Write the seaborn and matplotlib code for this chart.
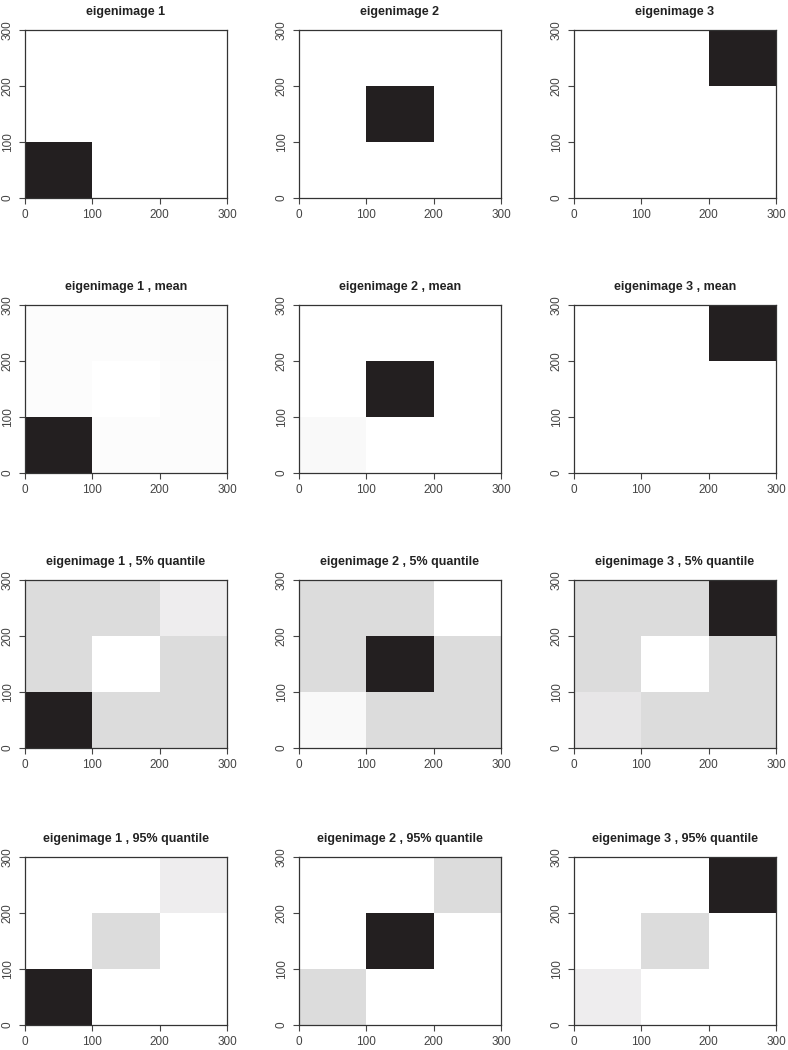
import numpy as np
import matplotlib
matplotlib.use("Agg")
import matplotlib.pyplot as plt
from matplotlib.colors import LinearSegmentedColormap
import seaborn as sns

# ── Data: darkness of each 100x100 block (rows: y 0-100, 100-200, 200-300) ────
eigen_1 = [[1.00, 0.00, 0.00], [0.00, 0.00, 0.00], [0.00, 0.00, 0.00]]
eigen_2 = [[0.00, 0.00, 0.00], [0.00, 1.00, 0.00], [0.00, 0.00, 0.00]]
eigen_3 = [[0.00, 0.00, 0.00], [0.00, 0.00, 0.00], [0.00, 0.00, 1.00]]

mean_1 = [[1.00, 0.015, 0.015], [0.015, 0.00, 0.015], [0.015, 0.015, 0.02]]
mean_2 = [[0.03, 0.00, 0.00], [0.00, 1.00, 0.00], [0.00, 0.00, 0.00]]
mean_3 = [[0.00, 0.00, 0.00], [0.00, 0.00, 0.00], [0.00, 0.00, 1.00]]

q05_1 = [[1.00, 0.16, 0.16], [0.16, 0.00, 0.16], [0.16, 0.16, 0.08]]
q05_2 = [[0.03, 0.16, 0.16], [0.16, 1.00, 0.16], [0.16, 0.16, 0.00]]
q05_3 = [[0.11, 0.16, 0.16], [0.16, 0.00, 0.16], [0.16, 0.16, 1.00]]

q95_1 = [[1.00, 0.00, 0.00], [0.00, 0.16, 0.00], [0.00, 0.00, 0.08]]
q95_2 = [[0.16, 0.00, 0.00], [0.00, 1.00, 0.00], [0.00, 0.00, 0.16]]
q95_3 = [[0.08, 0.00, 0.00], [0.00, 0.16, 0.00], [0.00, 0.00, 1.00]]

row_suffixes = ["", " , mean", " , 5% quantile", " , 95% quantile"]
panels = [
    [eigen_1, eigen_2, eigen_3],
    [mean_1, mean_2, mean_3],
    [q05_1, q05_2, q05_3],
    [q95_1, q95_2, q95_3],
]
tick_labels = ["0", "100", "200", "300"]

# ── Layout ────────────────────────────────────────────────────────────────────
W, H = 788, 1050
col_left = [25, 299, 574]
col_width = 202
row_top = [30, 305, 580, 857]
row_height = 168

sns.set_style("white")
plt.rcParams["font.family"] = ["Liberation Sans", "DejaVu Sans"]

cmap = LinearSegmentedColormap.from_list("r_gray", ["#ffffff", "#231f20"])

fig = plt.figure(figsize=(W / 100, H / 100), dpi=100)
fig.patch.set_facecolor("white")

for r, row in enumerate(panels):
    for c, mat in enumerate(row):
        left = col_left[c] / W
        bottom = 1 - (row_top[r] + row_height) / H
        ax = fig.add_axes([left, bottom, col_width / W, row_height / H])
        sns.heatmap(np.array(mat), ax=ax, cmap=cmap, vmin=0, vmax=1,
                    cbar=False, square=False, linewidths=0)
        ax.set_ylim(0, 3)
        ax.set_xlim(0, 3)
        ax.set_xticks(range(4))
        ax.set_yticks(range(4))
        ax.set_xticklabels(tick_labels, rotation=0, fontsize=8.5, color="#444444")
        ax.set_yticklabels(tick_labels, rotation=90, va="center",
                           fontsize=8.5, color="#444444")
        ax.tick_params(axis="both", direction="out", length=4, width=0.8,
                       colors="#444444", left=True, bottom=True, pad=4)
        for sp in ax.spines.values():
            sp.set_visible(True)
            sp.set_color("#333333")
            sp.set_linewidth(0.9)
        ax.set_title(f"eigenimage {c + 1}{row_suffixes[r]}", fontsize=9,
                     fontweight="bold", color="#222222", pad=11)

fig.savefig("out.png", dpi=100, facecolor="white")
plt.close(fig)
